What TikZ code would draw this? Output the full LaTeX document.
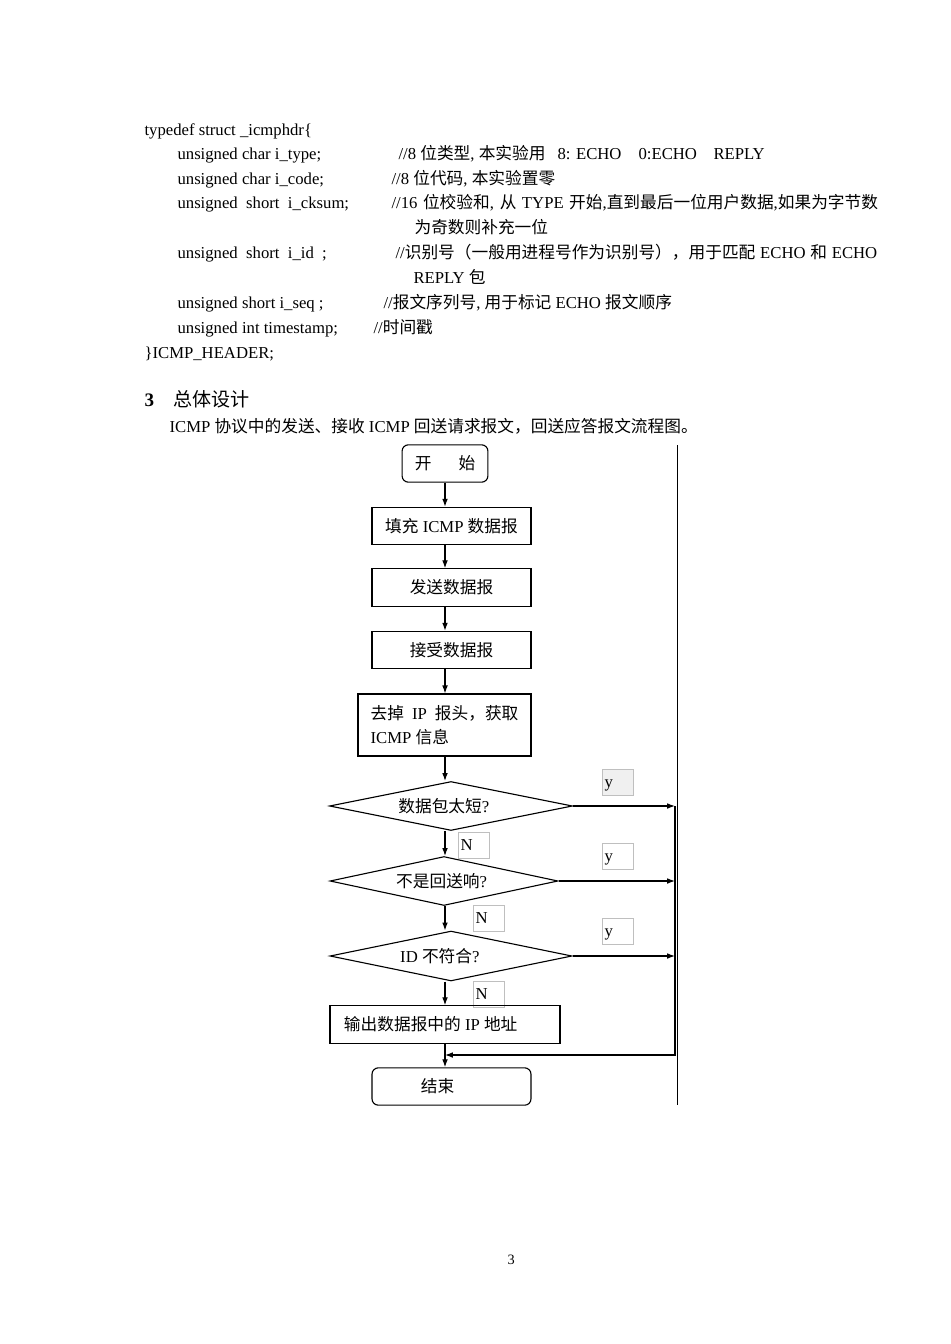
\documentclass[tikz,border=0pt]{standalone}
\usepackage{fontspec}
\setmainfont{Liberation Serif}
\newfontfamily\cjkfont{Noto Sans CJK SC}
\newcommand{\zh}[1]{{\cjkfont #1}}
\usetikzlibrary{arrows.meta, shapes.geometric, positioning}

\begin{document}
\begin{tikzpicture}[
            x = 0.629pt, y = -0.629pt, % one unit = one pixel of the page
            > = {Latex[length=5pt,width=3.6pt]}, % arrow head style
            line width = 0.7pt, % line style
            font = \fontsize{10.5pt}{15pt}\selectfont
        ]

        \tikzstyle{txt}=[anchor = base west, inner sep = 0pt]
        \tikzstyle{startstop}=[
            draw = black,
            rounded corners = 4pt,
            minimum width = 100pt,
            minimum height = 23.5pt,
            inner sep = 0pt
        ]
        \tikzstyle{procbox}=[
            draw = black,
            minimum width = 100pt,
            minimum height = 23.5pt,
            inner sep = 0pt
        ]
        \tikzstyle{decision}=[
            draw = black,
            diamond,
            aspect = 5,
            inner sep = 0pt,
            minimum height = 30.8pt
        ]
        \tikzstyle{yn}=[
            draw = black!25,
            line width = 0.4pt,
            anchor = north west,
            minimum width = 19.5pt,
            minimum height = 16.4pt,
            text width = 16.5pt,
            text height = 9pt,
            text depth = 2pt,
            align = left,
            inner sep = 1.5pt
        ]

        \fill[white] (0,0) rectangle (950,1344);
        \useasboundingbox (0,0) rectangle (950,1344);

        % the struct listing
        \node[txt] (l1) at (144,136) {typedef struct \_icmphdr\{};
        \node[txt] (l2) at (177,160) {unsigned char i\_type;};
        \node[txt] (c2) at (398,160) {//8 \zh{位类型}, \zh{本实验用}};
        \node[txt] (c2a) at (557,160) {8: ECHO};
        \node[txt] (c2b) at (638,160) {0:ECHO};
        \node[txt] (c2c) at (713,160) {REPLY};
        \node[txt] (l3) at (177,185) {unsigned char i\_code;};
        \node[txt] (c3) at (391,185) {//8 \zh{位代码}, \zh{本实验置零}};
        \node[txt] (l4) at (177,209) {unsigned\ \ short\ \ i\_cksum;};
        \node[txt] (c4) at (391,209) {\makebox[306pt][s]{//16 \zh{位校验和}, \zh{从} TYPE \zh{开始},\zh{直到最后一位用户数据},\zh{如果为字节数}}};
        \node[txt] (c4b) at (414,234) {\zh{为奇数则补充一位}};
        \node[txt] (l5) at (177,259) {unsigned\ \ short\ \ i\_id\ \ ;};
        \node[txt] (c5) at (395,259) {\makebox[303pt][s]{//\zh{识别号（一般用进程号作为识别号），用于匹配} ECHO \zh{和} ECHO}};
        \node[txt] (c5b) at (413,284) {REPLY \zh{包}};
        \node[txt] (l6) at (177,309) {unsigned short i\_seq ;};
        \node[txt] (c6) at (383,309) {//\zh{报文序列号}, \zh{用于标记} ECHO \zh{报文顺序}};
        \node[txt] (l7) at (177,334) {unsigned int timestamp;};
        \node[txt] (c7) at (373,334) {//\zh{时间戳}};
        \node[txt] (l8) at (144,359) {\}ICMP\_HEADER;};

        % section heading and caption
        \node[txt, font=\fontsize{12pt}{15pt}\selectfont\bfseries] (secno) at (144,407) {3};
        \node[txt, font=\fontsize{12pt}{15pt}\selectfont] (sec) at (173,407) {\zh{总体设计}};
        \node[txt] (cap) at (169,433) {ICMP \zh{协议中的发送、接收} ICMP \zh{回送请求报文，回送应答报文流程图。}};

        % y / N labels
        \node[yn, fill = black!6] (y1) at (602,769) {y};
        \node[yn] (y2) at (602,843) {y};
        \node[yn] (y3) at (602,918) {y};
        \node[yn] (n1) at (458,832) {N};
        \node[yn] (n2) at (473,905) {N};
        \node[yn] (n3) at (473,981) {N};

        % flow chart
        \node[startstop, minimum width = 54pt] (start) at (445,463.5) {\zh{开}\kern17pt\zh{始}};
        \node[procbox] (fill) at (451.5,526) {\zh{填充} ICMP \zh{数据报}};
        \node[procbox] (send) at (451.5,587.5) {\zh{发送数据报}};
        \node[procbox] (recv) at (451.5,650) {\zh{接受数据报}};
        \node[procbox, minimum width = 108.8pt, minimum height = 39pt, align = left] (strip) at (444.5,725)
            {\makebox[93pt][s]{\zh{去掉} IP \zh{报头，获取}}\\ICMP \zh{信息}};
        \node[decision, minimum width = 152.8pt] (short) at (451,806) {\zh{数据包太短}?\kern9pt};
        \node[decision, minimum width = 143.4pt] (echo) at (444,881) {\zh{不是回送响}?\kern3pt};
        \node[decision, minimum width = 152.2pt, minimum height = 31.4pt] (id) at (451,956) {ID \zh{不符合}?\kern14pt};
        \node[procbox, minimum width = 144.7pt] (out) at (445,1024.5) {\zh{输出数据报中的} IP \zh{地址}\kern18pt};
        \node[startstop] (stop) at (451.5,1086.5) {\zh{结束}\kern17.6pt};

        \coordinate (bus) at (675,806);
        \coordinate (join) at (675,1055);
        \coordinate (edgetop) at (677.5,445);
        \coordinate (edgebot) at (677.5,1105);

        \draw[->] (start.south) -- (fill.north -| start);
        \draw[->] (fill.south -| start) -- (send.north -| start);
        \draw[->] (send.south -| start) -- (recv.north -| start);
        \draw[->] (recv.south -| start) -- (strip.north -| start);
        \draw[->] (strip.south -| start) -- (short.north -| start);
        \draw[->] (short.south -| start) -- (echo.north -| start);
        \draw[->] (echo.south -| start) -- (id.north -| start);
        \draw[->] (id.south -| start) -- (out.north -| start);
        \draw[->] (out.south -| start) -- (stop.north -| start);

        \draw[->] (short.east) -- (short.east -| bus);
        \draw[->] (echo.east) -- (echo.east -| bus);
        \draw[->] (id.east) -- (id.east -| bus);
        \draw[->] (bus) -- (join) -- (join -| start);

        \draw[line width = 0.6pt] (edgetop) -- (edgebot);

        % page number
        \node[txt, font=\fontsize{9pt}{11pt}\selectfont] (page) at (507,1264) {3};

  \end{tikzpicture}
\end{document}
